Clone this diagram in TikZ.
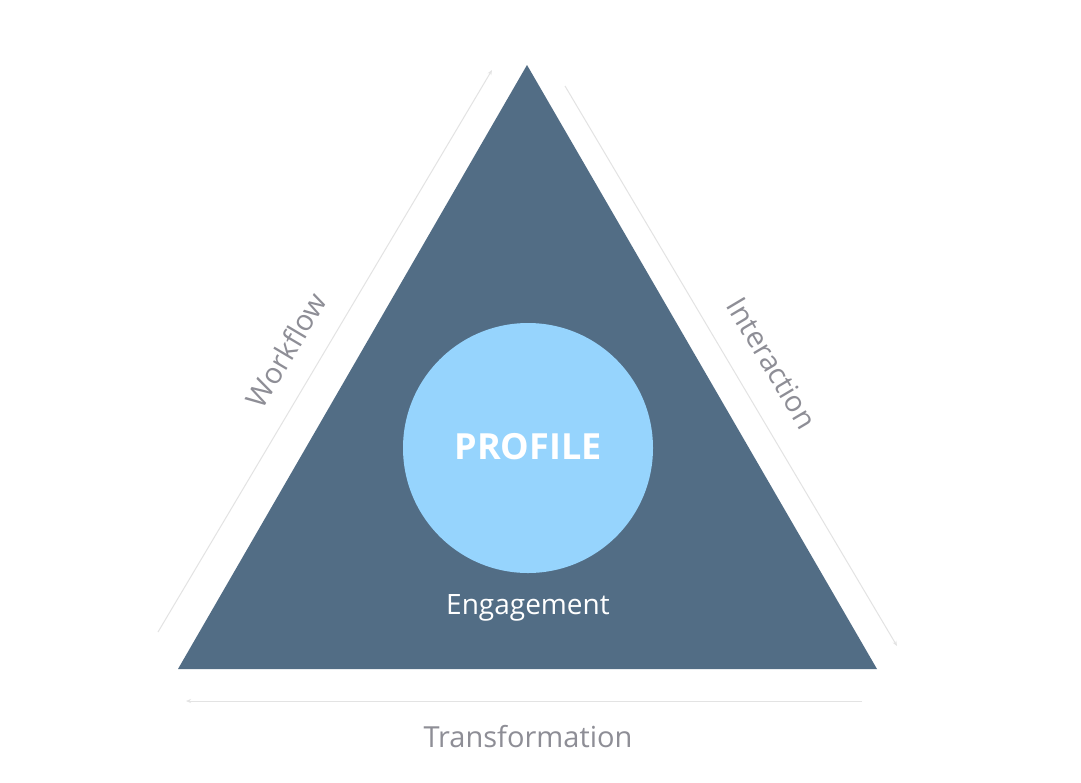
\documentclass[tikz,border=0pt]{standalone}
\usepackage{fontspec}
\setmainfont{Open Sans}
\usetikzlibrary{arrows.meta}
\definecolor{tri}{HTML}{526D85}
\definecolor{circ}{HTML}{96D4FD}
\definecolor{gtext}{HTML}{8E8E96}
\definecolor{gline}{HTML}{E3E3E3}
\begin{document}
\begin{tikzpicture}[x=1pt,y=-1pt,
  side/.style={draw=gline,line width=1pt,-{Stealth[length=5pt,width=4pt]}},
  lbl/.style={text=gtext,font=\fontsize{29}{32}\selectfont}]
\useasboundingbox[fill=white] (0,0) rectangle (1081,782);
\coordinate (A) at (527,65);
\coordinate (B) at (178,669);
\coordinate (C) at (877,669);
\fill[tri] (A) -- (B) -- (C) -- cycle;
\node[circle,fill=circ,minimum size=250pt,inner sep=0pt] (p) at (528,448) {};
\node[text=white,font=\bfseries\fontsize{36}{40}\selectfont] (pt) at (528,447) {PROFILE};
\node[text=white,font=\fontsize{28}{32}\selectfont] (e) at (528,608) {Engagement};
\coordinate (l1) at (158,632); \coordinate (l2) at (492,70);
\coordinate (r1) at (565,86); \coordinate (r2) at (897,646);
\coordinate (b1) at (862,701); \coordinate (b2) at (186,701);
\draw[side] (l1) -- (l2);
\draw[side] (r1) -- (r2);
\draw[side] (b1) -- (b2);
\node[lbl,rotate=59.3] (w) at (286,350) {Workflow};
\node[lbl,rotate=-59.3] (i) at (772,363) {Interaction};
\node[lbl] (t) at (528,737) {Transformation};
\end{tikzpicture}
\end{document}
